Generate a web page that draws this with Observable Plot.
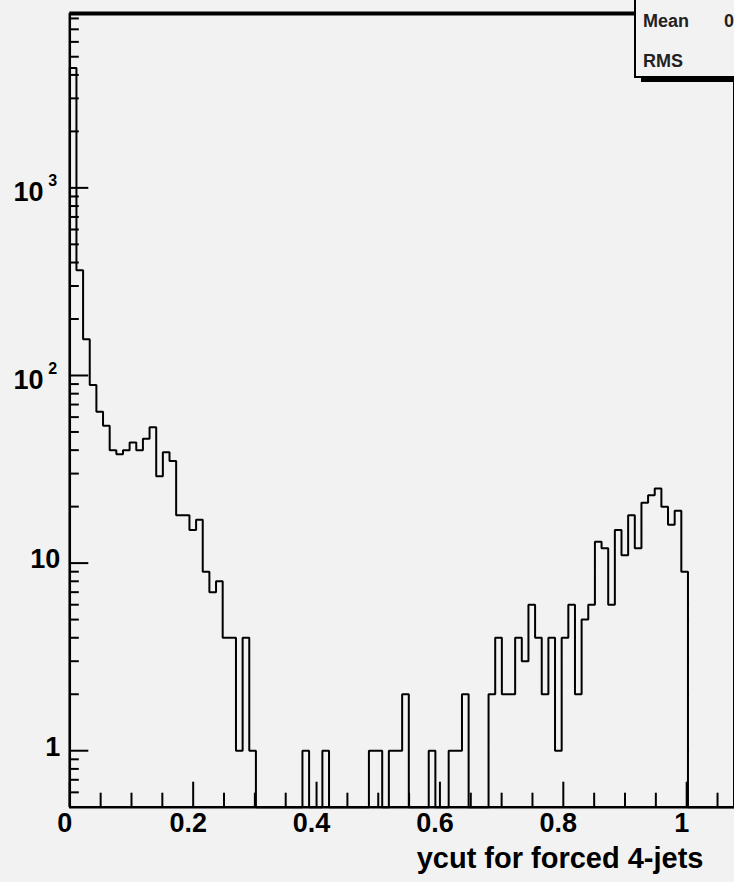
<!DOCTYPE html>
<html><head><meta charset="utf-8">
<script src="https://cdn.jsdelivr.net/npm/d3@7"></script>
<script src="https://cdn.jsdelivr.net/npm/@observablehq/plot@0.6"></script>
<style>
html,body{margin:0;padding:0;background:#f2f2f2;overflow:hidden;width:734px;height:882px;}
#wrap{position:relative;width:734px;height:882px;}
#stats{position:absolute;left:634px;top:-4px;width:130px;height:82px;box-sizing:border-box;border:2px solid #000;background:#f2f2f2;box-shadow:7px 4px 0 #000;font:bold 18px/1 "Liberation Sans",Arial,sans-serif;color:#222;}
.st{position:absolute;white-space:nowrap;}
</style></head><body><div id="wrap"></div>
<script>
// Histogram binning (ROOT TH1: 100 bins)
const xMin = 0, xMax = 1.0775, nBins = 100;
// Bin contents
const counts = [
  4357,364,156,89,64,54,40,38,40,44,
  40,46,53,29,39,35,18,18,15,17,
  9,7,8,4,4,1,4,1,0,0,
  0,0,0,0,0,1,0,0,1,0,
  0,0,0,0,0,1,1,0,1,1,
  2,0,0,0,1,0,0,1,1,2,
  0,0,0,2,4,2,2,4,3,6,
  4,2,4,1,4,6,2,5,6,13,
  12,6,15,11,18,12,21,23,25,20,
  16,19,9,0,0,0,0,0,0,0
];
const yMin = 0.5, yMax = 8500;
const xMajorTicks = [0, 0.2, 0.4, 0.6, 0.8, 1];
const xTickLabels = ["0", "0.2", "0.4", "0.6", "0.8", "1"];
const xMinorTicks = [0.05,0.1,0.15,0.25,0.3,0.35,0.45,0.5,0.55,0.65,0.7,0.75,0.85,0.9,0.95,1.05];
const yMajorTicks = [1, 10, 100, 1000];
const yLabelBase = ["1", "10", "10", "10"];
const yLabelExp = ["", "", "2", "3"];
const yMinorTicks = [0.6,0.7,0.8,0.9,2,3,4,5,6,7,8,9,20,30,40,50,60,70,80,90,
  200,300,400,500,600,700,800,900,2000,3000,4000,5000,6000,7000,8000];
const xTitle = "ycut for forced 4-jets";
const statNames = ["Mean", "RMS"];
const statValues = ["0", ""];

const W = 734, H = 882, mL = 69.3, mR = 0, mT = 13, mB = 75.3;
const plotW = W - mL - mR, plotH = H - mT - mB;
const FONT = "Liberation Sans, Arial, sans-serif";

const edges = d3.range(nBins + 1).map(i => xMin + i * (xMax - xMin) / nBins);
const pts = [{x: edges[0], y: yMin}];
counts.forEach((c, i) => {
  const v = c > 0 ? c : yMin;
  pts.push({x: edges[i], y: v}, {x: edges[i + 1], y: v});
});
pts.push({x: edges[counts.length], y: yMin});

const yLab = yMajorTicks.map((v, i) => ({v, base: yLabelBase[i], exp: yLabelExp[i]}));
const txt = {fontFamily: FONT, fontWeight: "bold", fill: "black"};

const chart = Plot.plot({
  width: W, height: H,
  marginLeft: mL, marginRight: mR, marginTop: mT, marginBottom: mB,
  x: {domain: [xMin, xMax], axis: null},
  y: {type: "log", domain: [yMin, yMax], axis: null},
  style: {background: "#f2f2f2", fontFamily: FONT, overflow: "visible"},
  marks: [
    Plot.ruleY([yMax], {stroke: "black", strokeWidth: 4}),
    Plot.ruleX([xMax], {stroke: "black", strokeWidth: 3}),
    Plot.tickY(yMinorTicks, {y: d => d, insetRight: plotW - 9.5, stroke: "black", strokeWidth: 2}),
    Plot.tickY(yMajorTicks, {y: d => d, insetRight: plotW - 19, stroke: "black", strokeWidth: 2}),
    Plot.tickX(xMinorTicks, {x: d => d, insetTop: plotH - 14, stroke: "black", strokeWidth: 2}),
    Plot.tickX(xMajorTicks, {x: d => d, insetTop: plotH - 25, stroke: "black", strokeWidth: 2}),
    Plot.line(pts, {x: "x", y: "y", stroke: "black", strokeWidth: 2, strokeLinejoin: "miter"}),
    Plot.ruleX([xMin], {stroke: "black", strokeWidth: 2.5}),
    Plot.ruleY([yMin], {stroke: "black", strokeWidth: 2.5}),
    Plot.text(xMajorTicks, {x: d => d, text: (d, i) => xTickLabels[i], frameAnchor: "bottom", dy: 24.8, dx: -5, fontSize: 27, ...txt}),
    Plot.text(yLab.filter(d => d.exp === ""), {y: "v", text: "base", frameAnchor: "left", dx: -9.5, dy: -3.5, textAnchor: "end", fontSize: 27, ...txt}),
    Plot.text(yLab.filter(d => d.exp !== ""), {y: "v", text: "base", frameAnchor: "left", dx: -26.3, dy: 4.5, textAnchor: "end", fontSize: 27, ...txt}),
    Plot.text(yLab.filter(d => d.exp !== ""), {y: "v", text: "exp", frameAnchor: "left", dx: -21.5, dy: -6.5, textAnchor: "start", fontSize: 16, ...txt}),
    Plot.text([xTitle], {text: d => d, frameAnchor: "bottom-right", dx: -31, dy: 61, textAnchor: "end", fontSize: 29, ...txt})
  ]
});
const wrap = document.getElementById("wrap");
wrap.appendChild(chart);
const box = document.createElement("div");
box.id = "stats";
statNames.forEach((n, i) => {
  const a = document.createElement("span");
  a.className = "st"; a.textContent = n;
  a.style.left = "7px"; a.style.top = (13.5 + 40 * i) + "px";
  box.appendChild(a);
  const b = document.createElement("span");
  b.className = "st"; b.textContent = statValues[i];
  b.style.left = "88px"; b.style.top = (13.5 + 40 * i) + "px";
  box.appendChild(b);
});
wrap.appendChild(box);
</script>
</body></html>
